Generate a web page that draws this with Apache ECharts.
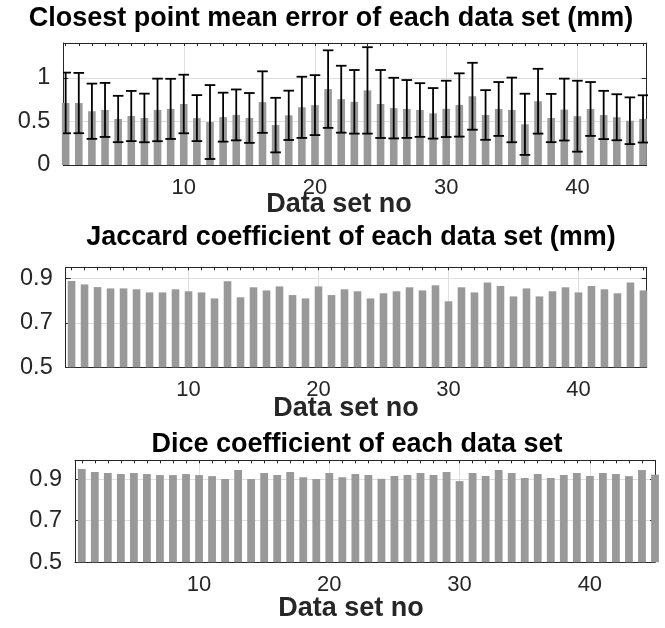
<!DOCTYPE html>
<html><head><meta charset="utf-8">
<script src="https://cdn.jsdelivr.net/npm/echarts@6/dist/echarts.min.js"></script>
<style>html,body{margin:0;padding:0;background:#fff}#c{width:665px;height:628px}</style>
</head><body><div id="c"></div>
<script>
// ---- data ----
const dataSetNo = [1,2,3,4,5,6,7,8,9,10,11,12,13,14,15,16,17,18,19,20,21,22,23,24,25,26,27,28,29,30,31,32,33,34,35,36,37,38,39,40,41,42,43,44,45];
const meanError = [0.712,0.711,0.617,0.632,0.528,0.562,0.540,0.632,0.644,0.700,0.538,0.493,0.549,0.575,0.540,0.722,0.458,0.570,0.662,0.687,0.871,0.755,0.725,0.856,0.700,0.653,0.643,0.631,0.593,0.644,0.689,0.789,0.574,0.643,0.632,0.467,0.732,0.539,0.636,0.560,0.643,0.574,0.548,0.508,0.529];
const meanErrorStd = [0.348,0.346,0.317,0.310,0.266,0.288,0.279,0.359,0.345,0.336,0.264,0.424,0.281,0.292,0.286,0.353,0.313,0.283,0.351,0.344,0.445,0.384,0.365,0.496,0.390,0.348,0.332,0.308,0.290,0.323,0.363,0.384,0.285,0.309,0.371,0.351,0.372,0.277,0.355,0.407,0.309,0.277,0.264,0.268,0.271];
const jaccard = [0.888,0.873,0.861,0.855,0.855,0.851,0.837,0.837,0.851,0.842,0.837,0.810,0.887,0.815,0.860,0.846,0.864,0.825,0.810,0.864,0.825,0.851,0.842,0.810,0.833,0.842,0.860,0.846,0.869,0.797,0.860,0.837,0.882,0.866,0.819,0.855,0.819,0.842,0.860,0.837,0.866,0.851,0.833,0.882,0.846];
const dice = [0.948,0.934,0.929,0.924,0.929,0.924,0.919,0.919,0.924,0.919,0.914,0.900,0.943,0.900,0.929,0.919,0.934,0.909,0.900,0.929,0.909,0.924,0.919,0.901,0.914,0.919,0.929,0.919,0.934,0.890,0.929,0.914,0.943,0.929,0.905,0.924,0.905,0.919,0.929,0.914,0.929,0.924,0.914,0.943,0.921];
const xTickLabels = [10,20,30,40];
const yTicksError = [0,0.5,1];
const yTicksCoef = [0.5,0.7,0.9];
const titles = ['Closest point mean error of each data set (mm)','Jaccard coefficient of each data set (mm)','Dice coefficient of each data set'];
const xLabel = 'Data set no';

// ---- layout / style ----
const FONT = '"Liberation Sans", Arial, Helvetica, sans-serif';
const AX = '#262626';
const GRIDC = '#dedede';
const BARC = '#999999';
const panels = [
  {grid:{left:63.3, top:43, width:583.4, height:122}, xMin:0.82, xMax:45.28, yMin:0, yMax:1.4, yTicks:yTicksError, values:meanError, err:meanErrorStd, barW:7.6, titleX:331, titleY:19, labelX:339, labelY:205},
  {grid:{left:65.7, top:267.3, width:581, height:100}, xMin:0.55, xMax:45.25, yMin:0.5, yMax:0.95, yTicks:yTicksCoef, values:jaccard, err:null, barW:7.6, titleX:351, titleY:238, labelX:346, labelY:409},
  {grid:{left:75, top:460.3, width:580, height:102}, xMin:0.48, xMax:45.0, yMin:0.5, yMax:0.99, yTicks:yTicksCoef, values:dice, err:null, barW:7.8, titleX:357, titleY:445, labelX:351, labelY:609}
];

const grids = [], xAxes = [], yAxes = [], series = [], graphics = [];
panels.forEach((p, i) => {
  grids.push(Object.assign({containLabel:false}, p.grid));
  xAxes.push({
    type:'value', gridIndex:i, position:'bottom', min:p.xMin, max:p.xMax,
    axisLine:{show:true, onZero:false, lineStyle:{color:AX, width:1}},
    axisTick:{show:false, customValues:xTickLabels},
    axisLabel:{customValues:xTickLabels, fontSize:22, fontFamily:FONT, color:AX, margin:23, verticalAlign:'middle'},
    splitLine:{show:true, lineStyle:{color:GRIDC, width:1}}
  });
  xAxes.push({
    type:'value', gridIndex:i, position:'top', min:p.xMin, max:p.xMax,
    axisLine:{show:true, onZero:false, lineStyle:{color:AX, width:1}},
    axisTick:{show:true, inside:true, length:3, customValues:dataSetNo, lineStyle:{color:AX, width:1}},
    axisLabel:{show:false}, splitLine:{show:false}
  });
  yAxes.push({
    type:'value', gridIndex:i, position:'left', min:p.yMin, max:p.yMax,
    axisLine:{show:true, onZero:false, lineStyle:{color:AX, width:1}},
    axisTick:{show:true, inside:true, length:5, customValues:p.yTicks, lineStyle:{color:AX, width:1}},
    axisLabel:{customValues:p.yTicks, fontSize:23.5, fontFamily:FONT, color:AX, margin:13},
    splitLine:{show:true, lineStyle:{color:GRIDC, width:1}}
  });
  yAxes.push({
    type:'value', gridIndex:i, position:'right', min:p.yMin, max:p.yMax,
    axisLine:{show:true, onZero:false, lineStyle:{color:AX, width:1}},
    axisTick:{show:true, inside:true, length:5, customValues:p.yTicks, lineStyle:{color:AX, width:1}},
    axisLabel:{show:false}, splitLine:{show:false}
  });
  series.push({
    type:'bar', xAxisIndex:2*i, yAxisIndex:2*i, barWidth:p.barW, silent:true,
    itemStyle:{color:BARC}, data:p.values.map((v,k)=>[dataSetNo[k], v])
  });
  if (p.err) {
    series.push({
      type:'custom', xAxisIndex:2*i, yAxisIndex:2*i, silent:true, clip:true, z:5,
      encode:{x:0, y:1},
      data:p.values.map((v,k)=>[dataSetNo[k], v, p.err[k]]),
      renderItem:function(params, api){
        const x = api.value(0), m = api.value(1), s = api.value(2);
        const t = api.coord([x, m+s]), b = api.coord([x, m-s]);
        const hw = 5.3, st = {stroke:'#000', lineWidth:1.8};
        return {type:'group', children:[
          {type:'line', shape:{x1:t[0], y1:t[1], x2:b[0], y2:b[1]}, style:st},
          {type:'line', shape:{x1:t[0]-hw, y1:t[1], x2:t[0]+hw, y2:t[1]}, style:st},
          {type:'line', shape:{x1:b[0]-hw, y1:b[1], x2:b[0]+hw, y2:b[1]}, style:st}
        ]};
      }
    });
  }
  graphics.push({type:'text', x:p.titleX, y:p.titleY, silent:true,
    style:{text:titles[i], fontSize:27, fontWeight:'bold', fontFamily:FONT, fill:'#000', align:'center', verticalAlign:'middle'}});
  graphics.push({type:'text', x:p.labelX, y:p.labelY, silent:true,
    style:{text:xLabel, fontSize:27, fontWeight:'bold', fontFamily:FONT, fill:AX, align:'center', verticalAlign:'middle'}});
});

const chart = echarts.init(document.getElementById('c'), null, {renderer:'canvas'});
chart.setOption({
  animation:false, backgroundColor:'#fff',
  grid:grids, xAxis:xAxes, yAxis:yAxes, series:series, graphic:graphics
});
</script></body></html>
